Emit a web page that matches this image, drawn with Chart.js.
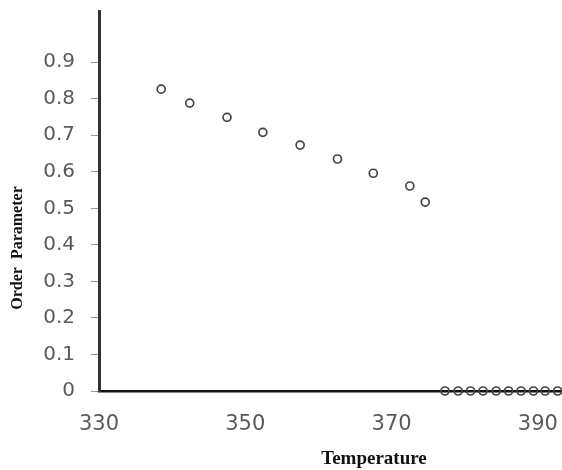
<!DOCTYPE html>
<html>
<head>
<meta charset="utf-8">
<script src="https://cdn.jsdelivr.net/npm/chart.js@4"></script>
<style>
html,body{margin:0;padding:0;background:#fff;}
#wrap{width:562px;height:470px;position:relative;}
</style>
</head>
<body>
<div id="wrap"><canvas id="c" width="562" height="470"></canvas></div>
<script>
// Data
const temperature = [338.5, 342.4, 347.5, 352.4, 357.5, 362.6, 367.5, 372.5, 374.6,
                     377.3, 379.1, 380.8, 382.5, 384.3, 386.0, 387.7, 389.4, 391.0, 392.7];
const orderParameter = [0.826, 0.788, 0.749, 0.708, 0.673, 0.635, 0.596, 0.561, 0.517,
                        0, 0, 0, 0, 0, 0, 0, 0, 0, 0];
const xTicks = [330, 350, 370, 390];
const yTicks = [0, 0.1, 0.2, 0.3, 0.4, 0.5, 0.6, 0.7, 0.8, 0.9];
const xTitle = 'Temperature';
const yTitle = 'Order  Parameter';

const points = temperature.map((t, i) => ({x: t, y: orderParameter[i]}));

const titlesPlugin = {
  id: 'titles',
  afterDraw(chart) {
    const ctx = chart.ctx;
    ctx.save();
    ctx.fillStyle = '#111';
    ctx.textAlign = 'center';
    ctx.textBaseline = 'middle';
    ctx.font = 'bold 19px "Liberation Serif", "Times New Roman", serif';
    ctx.fillText(xTitle, 374, 459);
    ctx.translate(18, 248);
    ctx.rotate(-Math.PI / 2);
    ctx.font = 'bold 16px "Liberation Serif", "Times New Roman", serif';
    ctx.fillText(yTitle, 0, 0);
    ctx.restore();
  }
};

new Chart(document.getElementById('c'), {
  type: 'scatter',
  data: {
    datasets: [{
      data: points,
      pointRadius: 4,
      pointHoverRadius: 4,
      pointBorderWidth: 1.7,
      pointBorderColor: '#444',
      pointBackgroundColor: 'rgba(255,255,255,0)',
      showLine: false,
      clip: false
    }]
  },
  options: {
    responsive: false,
    animation: false,
    events: [],
    layout: {autoPadding: false, padding: {top: 11, right: 0, left: 0, bottom: 0}},
    plugins: {legend: {display: false}, tooltip: {enabled: false}},
    scales: {
      x: {
        type: 'linear',
        min: 330,
        max: 393.3,
        afterBuildTicks(scale) { scale.ticks = xTicks.map(v => ({value: v})); },
        afterFit(scale) {
          scale.height = 79;
          scale.paddingLeft = 0;
          scale.paddingRight = 0;
        },
        grid: {display: false, drawTicks: false},
        border: {display: true, color: '#111', width: 2.5},
        ticks: {
          padding: 21,
          color: '#5a5a5a',
          font: {family: '"DejaVu Sans", sans-serif', size: 21},
          maxRotation: 0
        }
      },
      y: {
        type: 'linear',
        min: 0,
        max: 1.04,
        afterBuildTicks(scale) { scale.ticks = yTicks.map(v => ({value: v})); },
        afterFit(scale) { scale.width = 99; scale.paddingTop = 0; scale.paddingBottom = 0; },
        grid: {drawOnChartArea: false, drawTicks: true, tickLength: 8, color: '#999'},
        border: {display: true, color: '#333', width: 3},
        ticks: {
          padding: 16,
          color: '#5a5a5a',
          font: {family: '"DejaVu Sans", sans-serif', size: 20},
          callback: v => (v === 0 ? '0' : v.toFixed(1))
        }
      }
    }
  },
  plugins: [titlesPlugin]
});
</script>
</body>
</html>
